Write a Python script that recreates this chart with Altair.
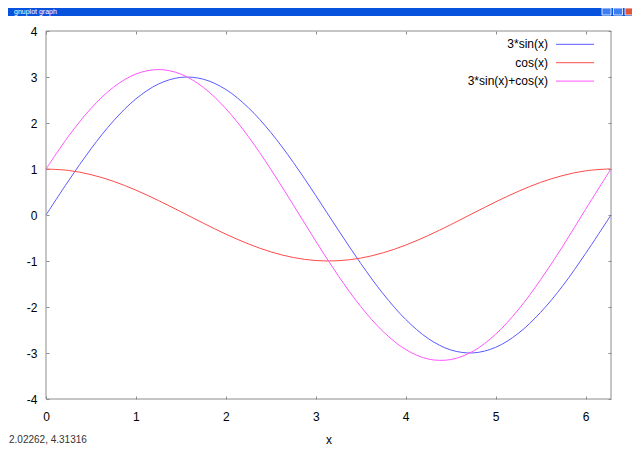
import altair as alt
import pandas as pd

# values
xs = [0.0, 0.25, 0.5, 0.75, 1.0, 1.25, 1.5, 1.75, 2.0, 2.25, 2.5, 2.75, 3.0,
      3.25, 3.5, 3.75, 4.0, 4.25, 4.5, 4.75, 5.0, 5.25, 5.5, 5.75, 6.0, 6.25, 6.2832]
sin3 = [0.0, 0.742, 1.438, 2.045, 2.524, 2.847, 2.992, 2.952, 2.728, 2.334, 1.795, 1.145, 0.423,
        -0.325, -1.052, -1.715, -2.270, -2.685, -2.933, -2.998, -2.877, -2.577, -2.117, -1.530, -0.838, -0.100, 0.0]
cosv = [1.0, 0.969, 0.878, 0.732, 0.540, 0.315, 0.071, -0.178, -0.416, -0.628, -0.801, -0.924, -0.990,
        -0.994, -0.937, -0.821, -0.654, -0.446, -0.211, 0.038, 0.284, 0.512, 0.709, 0.860, 0.960, 1.000, 1.0]
sumv = [1.0, 1.711, 2.316, 2.777, 3.065, 3.162, 3.063, 2.774, 2.312, 1.706, 0.994, 0.221, -0.567,
        -1.319, -1.989, -2.535, -2.924, -3.131, -3.143, -2.960, -2.593, -2.064, -1.408, -0.670, 0.122, 0.900, 1.0]
series = ["3*sin(x)", "cos(x)", "3*sin(x)+cos(x)"]
colors = ["#5a5aff", "#ff4a4a", "#ff55ff"]
x_ticks = [0, 1, 2, 3, 4, 5, 6]
y_ticks = [-4, -3, -2, -1, 0, 1, 2, 3, 4]
x_domain = [0, 6.2832]
y_domain = [-4, 4]
x_title = "x"
status_text = "2.02262, 4.31316"
window_title = "gnuplot graph"
button_names = ["min", "max", "close"]
button_colors = ["#3f7ef2", "#3f7ef2", "#e2553a"]

rows = []
for name, vals in zip(series, [sin3, cosv, sumv]):
    for xv, yv in zip(xs, vals):
        rows.append({"x": xv, "value": yv, "series": name})
df = pd.DataFrame(rows)
leg = pd.DataFrame({"series": series, "idx": list(range(len(series)))})
btn = pd.DataFrame({"name": button_names, "idx": list(range(len(button_names))), "c": button_colors})

W, H = 565, 368
FONT = "Liberation Sans"
GRAY = "#8c8c8c"
BLUE = "#0853de"
LABEL = "'' + datum.value"

xscale = alt.Scale(domain=x_domain, nice=False, zero=False)
yscale = alt.Scale(domain=y_domain, nice=False, zero=False)
cscale = alt.Scale(domain=series, range=colors)

# window title bar (the part that fits in the page)
titlebar = alt.Chart(alt.Data(values=[{"a": 1}])).mark_rect(color=BLUE).encode(
    x=alt.value(-38), x2=alt.value(586), y=alt.value(-23), y2=alt.value(-15)
)
titletext = alt.Chart(alt.Data(values=[{"t": window_title}])).mark_text(
    align="left", baseline="top", font=FONT, fontSize=7, color="white"
).encode(x=alt.value(-32), y=alt.value(-23), text="t:N")
buttons = alt.Chart(btn).transform_calculate(
    bx="556 + 11.5 * datum.idx", bx2="565 + 11.5 * datum.idx"
).mark_rect(stroke="white", strokeWidth=0.8).encode(
    x=alt.X("bx:Q", scale=None, axis=None), x2="bx2:Q",
    y=alt.value(-23), y2=alt.value(-16),
    fill=alt.Fill("c:N", scale=None, legend=None),
)

lines = alt.Chart(df).mark_line(strokeWidth=1, interpolate="catmull-rom").encode(
    x=alt.X("x:Q", scale=xscale,
            axis=alt.Axis(orient="bottom", values=x_ticks, labelExpr=LABEL, offset=-3, tickSize=3,
                          domain=False, grid=False, labelPadding=12, labelFlush=False,
                          title=x_title, titleY=47, titleBaseline="alphabetic",
                          titleFont=FONT, titleFontSize=12, titleFontWeight="normal",
                          titleColor="black")),
    y=alt.Y("value:Q", scale=yscale,
            axis=alt.Axis(orient="left", values=y_ticks, labelExpr=LABEL, offset=-3, tickSize=3,
                          domain=False, grid=False, labelPadding=9, labelFlush=False,
                          title=None)),
    color=alt.Color("series:N", scale=cscale, legend=None),
)

mirror = alt.Chart(df).mark_line(opacity=0).encode(
    x=alt.X("x:Q", scale=xscale,
            axis=alt.Axis(orient="top", values=x_ticks, offset=-3, tickSize=3, labels=False,
                          domain=False, grid=False, title=None)),
    y=alt.Y("value:Q", scale=yscale,
            axis=alt.Axis(orient="right", values=y_ticks, offset=-3, tickSize=3, labels=False,
                          domain=False, grid=False, title=None)),
    detail="series:N",
)

frame = alt.Chart(alt.Data(values=[{"a": 1}])).mark_rect(
    filled=False, stroke=GRAY, strokeWidth=1
).encode(x=alt.value(0), x2=alt.value(W), y=alt.value(0), y2=alt.value(H))

legend_rules = alt.Chart(leg).transform_calculate(ly="13.3 + 18.4 * datum.idx").mark_rule(
    strokeWidth=1
).encode(
    x=alt.value(510), x2=alt.value(548),
    y=alt.Y("ly:Q", scale=None, axis=None),
    color=alt.Color("series:N", scale=cscale, legend=None),
)

legend_text = alt.Chart(leg).transform_calculate(ly="13.3 + 18.4 * datum.idx").mark_text(
    align="right", baseline="middle", font=FONT, fontSize=12, color="black"
).encode(
    x=alt.value(502),
    y=alt.Y("ly:Q", scale=None, axis=None),
    text="series:N",
)

status = alt.Chart(alt.Data(values=[{"t": status_text}])).mark_text(
    align="left", baseline="alphabetic", font=FONT, fontSize=10, color="#333333"
).encode(x=alt.value(-37), y=alt.value(412), text="t:N")

chart = alt.layer(
    titlebar, titletext, buttons, lines, mirror, frame, legend_rules, legend_text, status
).resolve_axis(
    x="independent", y="independent"
).properties(
    width=W, height=H,
    autosize="none",
    padding={"left": 38, "top": 23, "right": 21, "bottom": 47},
    background="white",
).configure_view(
    stroke=None
).configure_axis(
    labelFont=FONT, labelFontSize=12, labelColor="black", tickColor=GRAY, tickWidth=1
)

chart.save("out.html", embed_options={"renderer": "svg", "actions": False})
